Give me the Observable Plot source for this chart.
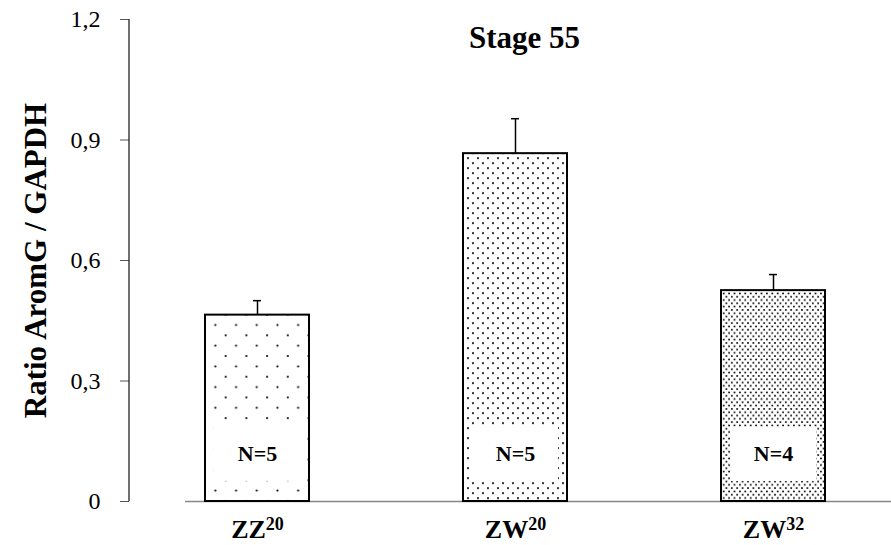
<!DOCTYPE html>
<html>
<head>
<meta charset="utf-8">
<script src="https://cdn.jsdelivr.net/npm/d3@7"></script>
<script src="https://cdn.jsdelivr.net/npm/@observablehq/plot@0.6"></script>
<style>
  html, body { margin: 0; padding: 0; background: white; }
</style>
</head>
<body>
<div id="chart"></div>
<script>
const groups = ["ZZ20", "ZW20", "ZW32"];
const labelBase = ["ZZ", "ZW", "ZW"];
const labelSup = ["20", "20", "32"];
const means = [0.464, 0.866, 0.525];
const sems = [0.036, 0.087, 0.040];
const nLabels = ["N=5", "N=5", "N=4"];
const yTicks = [0, 0.3, 0.6, 0.9, 1.2];
const yTickLabels = ["0", "0,3", "0,6", "0,9", "1,2"];
const title = "Stage 55";
const yLabel = "Ratio AromG / GAPDH";

const data = groups.map((g, i) => ({
  group: g, mean: means[i], top: means[i] + sems[i], n: nLabels[i], pat: `url(#pat${i})`
}));

const serif = "'Liberation Serif', 'Times New Roman', Times, serif";

const chart = Plot.plot({
  width: 891,
  height: 545,
  marginLeft: 129,
  marginRight: 0,
  marginTop: 19,
  marginBottom: 44,
  style: `font-family: ${serif}; background: white; color: black;`,
  x: { domain: groups, range: [204, 825], paddingInner: 0.598, paddingOuter: 0 },
  y: { domain: [0, 1.2] },
  color: { type: "identity" },
  marks: [
    Plot.ruleY([0], { stroke: "#888", strokeWidth: 1.5, insetLeft: 56 }),
    Plot.barY(data, { x: "group", y: "mean", fill: "pat", stroke: "black", strokeWidth: 2 }),
    Plot.barY(data, { x: "group", y1: 0.05, y2: 0.185, fill: "white", insetLeft: 9, insetRight: 9 }),
    Plot.text(data, { x: "group", y: 0.118, text: "n", fontSize: 22, fontWeight: "bold", lineAnchor: "middle", fontFamily: serif }),
    Plot.ruleX(data, { x: "group", y1: "mean", y2: "top", stroke: "black", strokeWidth: 1.5 }),
    Plot.tickY(data, { x: "group", y: "top", stroke: "black", strokeWidth: 1.5, insetLeft: 48, insetRight: 48 }),
    Plot.axisY(yTicks, {
      tickFormat: d => yTickLabels[yTicks.indexOf(d)],
      tickSize: 9, tickPadding: 20, fontSize: 24, stroke: "#555", label: null, fontFamily: serif
    }),
    Plot.axisX({
      tickSize: 0, tickPadding: 18, fontSize: 26, fontWeight: "bold", fontFamily: serif,
      tickFormat: d => labelBase[groups.indexOf(d)], label: null
    }),
    Plot.text([yLabel], { frameAnchor: "left", textAnchor: "middle", dx: -93, rotate: -90, fontSize: 31, fontWeight: "bold", lineAnchor: "middle", fontFamily: serif }),
    Plot.text([title], { frameAnchor: "top", dx: 14, dy: 28, lineAnchor: "bottom", fontSize: 31, fontWeight: "bold", fontFamily: serif })
  ]
});

const svg = d3.select(chart);
// patterns
const defs = svg.insert("defs", ":first-child");
const pats = [
  { w: 20.7, h: 20.7, dots: [[0, 0], [10.35, 10.35]], r: 1.1 },
  { w: 10, h: 10, dots: [[0, 0], [5, 5]], r: 1.05 },
  { w: 5.4, h: 6.6, dots: [[0, 0], [2.7, 3.3]], r: 0.95 }
];
const xs = chart.scale("x");
const ys = chart.scale("y");
pats.forEach((p, i) => {
  const x0 = xs.apply(groups[i]);
  const y0 = ys.apply(means[i]);
  const pat = defs.append("pattern")
    .attr("id", `pat${i}`)
    .attr("patternUnits", "userSpaceOnUse")
    .attr("width", p.w).attr("height", p.h)
    .attr("x", x0).attr("y", y0);
  pat.append("rect").attr("width", p.w).attr("height", p.h).attr("fill", "white");
  const pts = [];
  p.dots.forEach(([dx, dy]) => {
    pts.push([dx, dy], [dx + p.w, dy], [dx, dy + p.h], [dx + p.w, dy + p.h]);
  });
  pts.forEach(([cx, cy]) => pat.append("circle").attr("cx", cx).attr("cy", cy).attr("r", p.r).attr("fill", "black"));
});

// y axis line
svg.append("line")
  .attr("x1", 129).attr("x2", 129)
  .attr("y1", ys.apply(0)).attr("y2", ys.apply(1.2))
  .attr("stroke", "#222").attr("stroke-width", 1.3);

// superscripts on x labels
svg.selectAll('g[aria-label="x-axis tick label"] text').each(function (d, i) {
  const t = d3.select(this);
  t.append("tspan").attr("dy", "-0.42em").attr("font-size", 18).text(labelSup[i]);
});

document.getElementById("chart").appendChild(chart);
</script>
</body>
</html>
